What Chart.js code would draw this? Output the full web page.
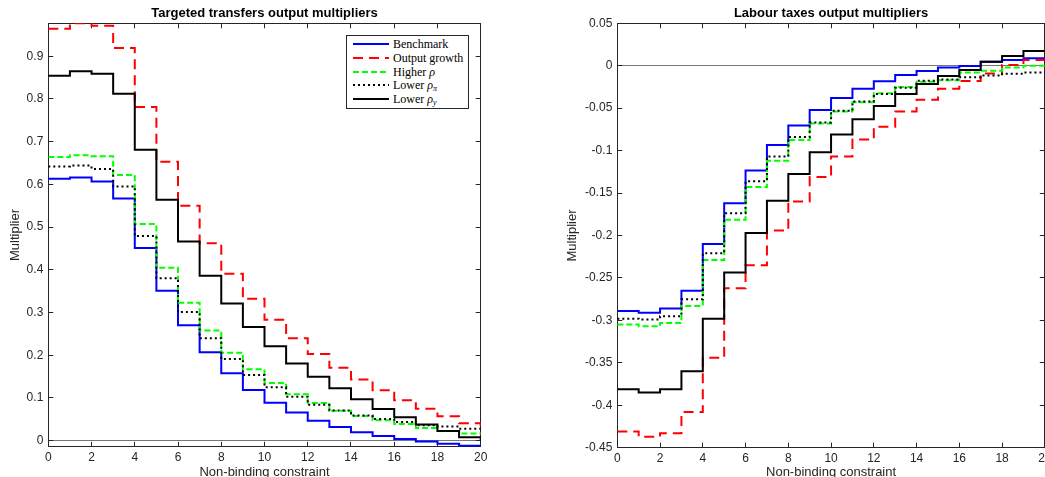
<!DOCTYPE html>
<html>
<head>
<meta charset="utf-8">
<script src="https://cdn.jsdelivr.net/npm/chart.js@4.4.1/dist/chart.umd.min.js"></script>
<style>
html, body { margin: 0; padding: 0; background: #fff; overflow: hidden; width: 1045px; height: 477px; }
.box { position: absolute; top: 0; height: 490px; }
#left { left: 0; width: 500px; }
#right { left: 540px; width: 520px; }
#legend { position: absolute; left: 346px; top: 35px; width: 121px; height: 72px; border: 1px solid #262626; background: #fff;
  font-family: "Liberation Serif", "Times New Roman", serif; font-size: 12px; color: #000; }
.item { position: absolute; left: 0; width: 100%; height: 14px; }
.item svg { position: absolute; left: 6px; top: 4px; }
.item span { position: absolute; left: 46px; top: 0; line-height: 14px; white-space: nowrap; }
sub { font-size: 8px; vertical-align: -2px; line-height: 0; }
</style>
</head>
<body>
<div class="box" id="left"><canvas id="leftChart"></canvas></div>
<div class="box" id="right"><canvas id="rightChart"></canvas></div>
<div id="legend"></div>
<script>
// periods since the constraint stopped binding
var periods = [0, 1, 2, 3, 4, 5, 6, 7, 8, 9, 10, 11, 12, 13, 14, 15, 16, 17, 18, 19, 20];

var seriesNames = ['Benchmark', 'Output growth', 'Higher \u03c1', 'Lower \u03c1\u03c0', 'Lower \u03c1y'];
var legendLabels = ['Benchmark', 'Output growth', 'Higher <i>\u03c1</i>', 'Lower <i>\u03c1</i><sub><i>\u03c0</i></sub>', 'Lower <i>\u03c1</i><sub><i>y</i></sub>'];
var seriesColors = ['#0000ff', '#ff0000', '#00ff00', '#000000', '#000000'];
var seriesDashes = [[], [10, 6], [6, 3], [2, 3], []];

// targeted transfers
var transfersBenchmark = [0.613, 0.616, 0.607, 0.567, 0.451, 0.351, 0.270, 0.207, 0.158, 0.119, 0.089, 0.066, 0.047, 0.032, 0.020, 0.011, 0.004, -0.002, -0.007, -0.012, -0.014];
var transfersGrowth = [0.964, 0.977, 0.971, 0.919, 0.781, 0.653, 0.550, 0.462, 0.391, 0.332, 0.283, 0.240, 0.203, 0.171, 0.143, 0.118, 0.095, 0.075, 0.057, 0.041, 0.033];
var transfersHigherRho = [0.664, 0.668, 0.666, 0.622, 0.507, 0.405, 0.323, 0.258, 0.206, 0.167, 0.135, 0.109, 0.088, 0.070, 0.058, 0.048, 0.039, 0.030, 0.023, 0.017, 0.015];
var transfersLowerRhoPi = [0.642, 0.644, 0.636, 0.595, 0.479, 0.380, 0.301, 0.240, 0.191, 0.154, 0.125, 0.103, 0.084, 0.071, 0.059, 0.051, 0.044, 0.036, 0.033, 0.028, 0.027];
var transfersLowerRhoY = [0.854, 0.865, 0.859, 0.812, 0.681, 0.564, 0.466, 0.386, 0.321, 0.266, 0.221, 0.181, 0.150, 0.123, 0.097, 0.074, 0.055, 0.038, 0.023, 0.008, 0.000];

// labour taxes
var taxesBenchmark = [-0.289, -0.291, -0.286, -0.265, -0.210, -0.162, -0.1235, -0.0935, -0.0705, -0.052, -0.038, -0.027, -0.0184, -0.011, -0.0062, -0.002, -0.0004, 0.0047, 0.0067, 0.0087, 0.009];
var taxesGrowth = [-0.431, -0.437, -0.433, -0.408, -0.344, -0.262, -0.235, -0.194, -0.160, -0.131, -0.107, -0.087, -0.072, -0.054, -0.040, -0.027, -0.018, -0.009, 0.001, 0.0067, 0.007];
var taxesHigherRho = [-0.305, -0.307, -0.303, -0.283, -0.229, -0.1815, -0.143, -0.112, -0.0875, -0.068, -0.054, -0.043, -0.0325, -0.025, -0.019, -0.017, -0.008, -0.006, -0.002, 0.000, 0.000];
var taxesLowerRhoPi = [-0.298, -0.299, -0.295, -0.275, -0.221, -0.1737, -0.136, -0.107, -0.084, -0.0668, -0.053, -0.042, -0.0333, -0.026, -0.0178, -0.0162, -0.0135, -0.0116, -0.0095, -0.008, -0.008];
var taxesLowerRhoY = [-0.381, -0.385, -0.381, -0.360, -0.298, -0.2435, -0.197, -0.159, -0.1275, -0.102, -0.081, -0.063, -0.0474, -0.0333, -0.0215, -0.0121, -0.005, 0.0047, 0.0114, 0.0173, 0.0173];

var xTicks = { min: 0, max: 20, step: 2 };

var axisColor = '#262626';
var sans = '"Liberation Sans", Arial, Helvetica, sans-serif';

function fmt(v) { return String(parseFloat(v.toFixed(4))); }

function buildDatasets(list) {
	return list.map(function (vals, i) {
		return {
			label: seriesNames[i],
			data: periods.map(function (p, k) { return { x: p, y: vals[k] }; }),
			borderColor: seriesColors[i],
			borderDash: seriesDashes[i],
			borderWidth: 2,
			pointRadius: 0,
			fill: false,
			stepped: true,
			order: list.length - i
		};
	});
}

function makeChart(id, title, yMin, yMax, yStep, yWidth, yTitlePad, rightPad, xHeight, list) {
	var tickFont = { family: sans, size: 12 };
	var hidden = { display: false };
	return new Chart(document.getElementById(id), {
		type: 'line',
		data: { datasets: buildDatasets(list) },
		options: {
			responsive: true,
			maintainAspectRatio: false,
			animation: false,
			layout: { padding: { left: 0, right: rightPad, top: 0, bottom: 0 } },
			plugins: {
				legend: hidden,
				tooltip: { enabled: false },
				title: {
					display: true, text: title, color: '#000', fullSize: false,
					font: { family: sans, size: 13, weight: 'bold' },
					padding: { top: 6, bottom: 1.7 }
				}
			},
			scales: {
				x: {
					type: 'linear', position: 'bottom', min: xTicks.min, max: xTicks.max,
					ticks: { stepSize: xTicks.step, color: axisColor, font: tickFont, padding: 8.5, autoSkip: false, maxRotation: 0, callback: fmt },
					grid: { drawOnChartArea: false, tickLength: -5, tickColor: axisColor, tickWidth: 1 },
					border: { display: true, color: axisColor, width: 1 },
					title: { display: true, text: 'Non-binding constraint', color: axisColor, font: { family: sans, size: 13 }, padding: { top: 0, bottom: 9.5 } },
					afterFit: function (s) { s.height = xHeight; }
				},
				x2: {
					type: 'linear', position: 'top', min: xTicks.min, max: xTicks.max,
					ticks: { stepSize: xTicks.step, display: false },
					grid: { drawOnChartArea: false, tickLength: -5, tickColor: axisColor, tickWidth: 1 },
					border: { display: true, color: axisColor, width: 1 },
					afterFit: function (s) { s.height = 0; }
				},
				y: {
					type: 'linear', position: 'left', min: yMin, max: yMax,
					ticks: { stepSize: yStep, includeBounds: false, color: axisColor, font: tickFont, padding: 10, callback: fmt },
					grid: {
						drawOnChartArea: true, tickLength: -5, tickColor: axisColor, tickWidth: 1, lineWidth: 1,
						color: function (c) { return c.tick && Math.abs(c.tick.value) < 1e-9 ? '#777777' : 'rgba(0,0,0,0)'; }
					},
					border: { display: true, color: axisColor, width: 1 },
					title: { display: true, text: 'Multiplier', color: axisColor, font: { family: sans, size: 13 }, padding: { top: yTitlePad, bottom: 0 } },
					afterFit: function (s) { s.width = yWidth; }
				},
				y2: {
					type: 'linear', position: 'right', min: yMin, max: yMax,
					ticks: { stepSize: yStep, includeBounds: false, display: false },
					grid: { drawOnChartArea: false, tickLength: -5, tickColor: axisColor, tickWidth: 1 },
					border: { display: true, color: axisColor, width: 1 },
					afterFit: function (s) { s.width = 0; }
				}
			}
		}
	});
}

makeChart('leftChart', 'Targeted transfers output multipliers', -0.014, 0.977, 0.1, 48.3, 7.7, 19.3, 43.3,
	[transfersBenchmark, transfersGrowth, transfersHigherRho, transfersLowerRhoPi, transfersLowerRhoY]);
makeChart('rightChart', 'Labour taxes output multipliers', -0.45, 0.05, 0.05, 77.3, 24.7, 9.3, 42.3,
	[taxesBenchmark, taxesGrowth, taxesHigherRho, taxesLowerRhoPi, taxesLowerRhoY]);

// legend of the left panel, with subscripts as real text
var legend = document.getElementById('legend');
legendLabels.forEach(function (lbl, i) {
	var item = document.createElement('div');
	item.className = 'item';
	item.style.top = (1 + i * 13.8) + 'px';
	var dash = seriesDashes[i].length ? ' stroke-dasharray="' + seriesDashes[i].join(' ') + '"' : '';
	item.innerHTML = '<svg width="36" height="6"><line x1="0" y1="3" x2="36" y2="3" stroke="' + seriesColors[i] + '" stroke-width="2"' + dash + '/></svg><span>' + lbl + '</span>';
	legend.appendChild(item);
});
</script>
</body>
</html>
